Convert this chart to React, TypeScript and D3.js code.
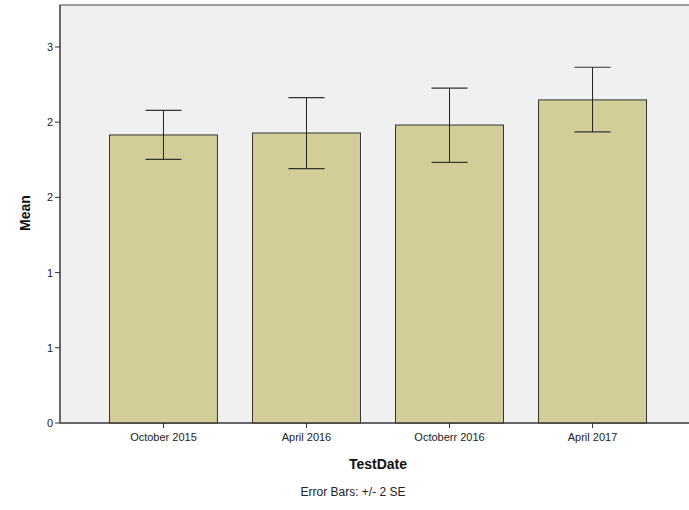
import React from "react";
import * as d3 from "d3";

const categories = ["October 2015", "April 2016", "Octoberr 2016", "April 2017"];
const means = [1.915, 1.928, 1.981, 2.148];
const errLow = [1.753, 1.691, 1.733, 1.935];
const errHigh = [2.079, 2.163, 2.227, 2.365];
const yTicks = [0, 0.5, 1, 1.5, 2, 2.5];

const W = 689;
const H = 510;
const left = 60;
const right = 696;
const top = 5;
const bottom = 423;

export default function App() {
  const x = d3.scaleBand<string>().domain(categories).range([left, right]).paddingInner(0.245).paddingOuter(0.346);
  const y = d3.scaleLinear().domain([0, 2.779]).range([bottom, top]);
  const fmt = d3.format(".0f");
  const font = "Arial, 'Liberation Sans', sans-serif";
  const capW = 36;
  return (
    <svg width={W} height={H} style={{ position: "absolute", left: 0, top: 0 }} fontFamily={font}>
      <rect x={0} y={0} width={W} height={H} fill="#ffffff" />
      <rect x={left} y={top} width={right - left} height={bottom - top} fill="#f0f0f0" stroke="#444" strokeWidth={1} />
      {categories.map((c, i) => {
        const bx = x(c)!;
        const cx = bx + x.bandwidth() / 2;
        return (
          <g key={c}>
            <rect x={bx} y={y(means[i])} width={x.bandwidth()} height={bottom - y(means[i])} fill="#d3ce97" stroke="#333" strokeWidth={1} />
            <line x1={cx} x2={cx} y1={y(errHigh[i])} y2={y(errLow[i])} stroke="#222" strokeWidth={1} />
            <line x1={cx - capW / 2} x2={cx + capW / 2} y1={y(errHigh[i])} y2={y(errHigh[i])} stroke="#333" strokeWidth={1.2} />
            <line x1={cx - capW / 2} x2={cx + capW / 2} y1={y(errLow[i])} y2={y(errLow[i])} stroke="#333" strokeWidth={1.2} />
            <line x1={cx} x2={cx} y1={bottom} y2={bottom + 5} stroke="#333" />
            <text x={cx} y={bottom + 18} textAnchor="middle" fontSize={11} fill="#222">{c}</text>
          </g>
        );
      })}
      <line x1={left} x2={right} y1={bottom} y2={bottom} stroke="#333" />
      <line x1={left} x2={left} y1={top} y2={bottom} stroke="#333" />
      {yTicks.map((t) => (
        <g key={t}>
          <line x1={left - 5} x2={left} y1={y(t)} y2={y(t)} stroke="#333" />
          <text x={left - 7} y={y(t) + 4} textAnchor="end" fontSize={11} fill="#222">{fmt(t)}</text>
        </g>
      ))}
      <text x={378} y={469} textAnchor="middle" fontSize={14} fontWeight="bold" fill="#111">TestDate</text>
      <text transform={`translate(30,213) rotate(-90)`} textAnchor="middle" fontSize={14} fontWeight="bold" fill="#111">Mean</text>
      <text x={353} y={496} textAnchor="middle" fontSize={12} fill="#222">Error Bars: +/- 2 SE</text>
    </svg>
  );
}
